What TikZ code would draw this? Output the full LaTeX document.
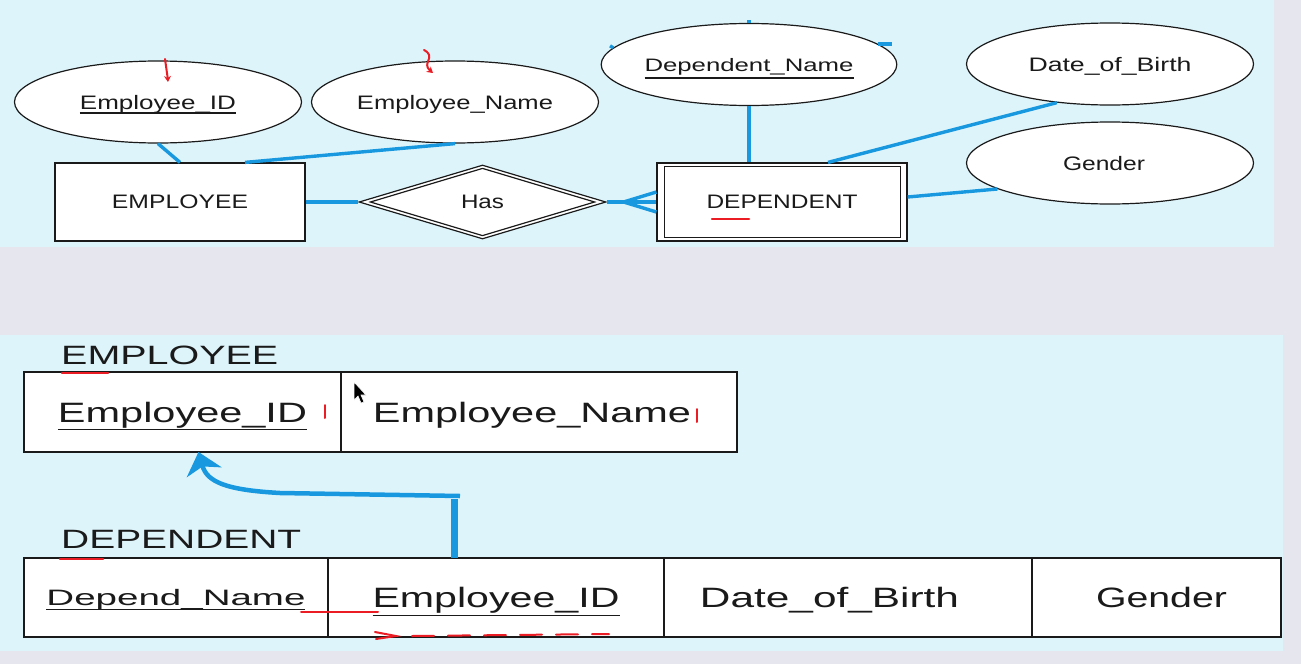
\documentclass[tikz,border=0pt]{standalone}
\usepackage{fontspec}
\setmainfont{Liberation Sans}
\usepackage{graphicx}
\usetikzlibrary{shapes.geometric,arrows.meta}
\definecolor{panelblue}{RGB}{221,244,251}
\definecolor{bandgray}{RGB}{230,230,239}
\definecolor{linkblue}{RGB}{24,152,222}
\definecolor{inkc}{RGB}{26,26,26}
\definecolor{penred}{RGB}{236,28,36}
\newcommand{\wtext}[2]{\resizebox{#1}{\height}{#2}}
\newcommand{\ktext}[3]{\rlap{\rule[#3]{#1}{1.2pt}}\wtext{#1}{#2}}
\begin{document}
\begin{tikzpicture}[x=1pt,y=-1pt,
	attr/.style={ellipse,draw=inkc,line width=1.2pt,fill=white,minimum width=287pt,minimum height=82pt,inner sep=0pt,text depth=0pt,text=inkc,font=\fontsize{19.5}{22}\selectfont},
	entity/.style={rectangle,draw=inkc,line width=1.2pt,fill=white,minimum width=250pt,minimum height=78pt,inner sep=0pt,text depth=0pt,text=inkc,font=\fontsize{19.5}{22}\selectfont},
	relation/.style={diamond,draw=inkc,line width=1.2pt,fill=white,minimum width=247pt,minimum height=74pt,inner sep=0pt,text depth=0pt,text=inkc,font=\fontsize{19.5}{22}\selectfont},
	tabletitle/.style={anchor=base west,inner sep=0pt,text=inkc,font=\fontsize{26.5}{28}\selectfont},
	cell/.style={rectangle,draw=inkc,line width=1.5pt,fill=white,minimum height=80pt,inner sep=0pt,outer sep=0pt,text depth=0pt,text=inkc,font=\fontsize{28}{30}\selectfont},
	link/.style={draw=linkblue,line width=3.4pt},
	fkline/.style={draw=linkblue,line width=4.5pt},
	redpen/.style={draw=penred,line width=2pt,line cap=round}]
	\useasboundingbox (0,0) rectangle (1301,664);
	\fill[bandgray] (0,0) rectangle (1301,664);
	\fill[panelblue] (0,0) rectangle (1274,247);
	\fill[panelblue] (0,335) rectangle (1283,651);
	% ER diagram
	\node[attr] (eid) at (158,102) {\ktext{156pt}{Employee\_ID}{-4.6pt}};
	\node[attr] (ename) at (455,102) {\wtext{196pt}{Employee\_Name}};
	\node[attr,font=\fontsize{18}{20}\selectfont] (dname) at (749,64.5) {\ktext{209pt}{Dependent\_Name}{-7.5pt}};
	\node[attr] (dob) at (1110,64) {\wtext{163pt}{Date\_of\_Birth}};
	\node[attr] (gen) at (1110,163) {\wtext{82pt}{Gender}\hspace*{12pt}};
	\node[entity] (emp) at (180,202) {\wtext{136pt}{EMPLOYEE}};
	\node[entity] (dep) at (782,202) {\wtext{151pt}{DEPENDENT}};
	\draw[inkc,line width=1.2pt] ([xshift=8pt,yshift=-4pt]dep.north west) rectangle ([xshift=-7pt,yshift=4pt]dep.south east);
	\node[relation] (has) at (482.5,202) {\wtext{43pt}{Has}};
	\draw[inkc,line width=1.2pt] ([xshift=12pt]has.west) -- ([yshift=-4pt]has.north) -- ([xshift=-12pt]has.east) -- ([yshift=4pt]has.south) -- cycle;
	\draw[link] (eid.south) -- (emp.north);
	\draw[link] (ename.south) -- ([xshift=65pt]emp.north);
	\draw[link] (emp.east) -- (has.west);
	\coordinate (foot) at ([xshift=17pt]has.east);
	\draw[link] (has.east) -- (foot);
	\draw[link] (foot) -- ([yshift=10pt]dep.west);
	\draw[link] (foot) -- (dep.west);
	\draw[link] (foot) -- ([yshift=-10pt]dep.west);
	\draw[link] (dname.south) -- (dname.south |- dep.north);
	\draw[link] (dob.216) -- ([xshift=46pt]dep.north);
	\draw[link] (gen.193) -- ([yshift=5pt]dep.east);
	\draw[link] (dname.north) -- ++(0,-3);
	\draw[link] (dname.173) -- ++(-3,-2);
	\draw[link] (dname.9) -- ++(14,0);
	% relational tables
	\node[tabletitle] (ttlemp) at (61,364) {\wtext{217pt}{EMPLOYEE}};
	\node[cell,minimum width=317pt] (tEid) at (182.5,412) {\ktext{249pt}{Employee\_ID}{-7.7pt}};
	\node[cell,minimum width=396pt] (tEname) at (539,412) {\wtext{318pt}{Employee\_Name}\hspace*{14pt}};
	\node[tabletitle] (ttldep) at (61,548) {\wtext{240pt}{DEPENDENT}};
	\node[cell,minimum width=304pt,minimum height=79pt,font=\fontsize{22.3}{24}\selectfont] (tdDname) at (176,597.5) {\ktext{259pt}{Depend\_Name}{-4.8pt}};
	\node[cell,minimum width=336pt,minimum height=79pt] (tdEid) at (496,597.5) {\ktext{247pt}{Employee\_ID}{-8.5pt}};
	\node[cell,minimum width=368pt,minimum height=79pt] (tdDob) at (848,597.5) {\wtext{259pt}{Date\_of\_Birth}\hspace*{37pt}};
	\node[cell,minimum width=249pt,minimum height=79pt] (tdGen) at (1156.5,597.5) {\hspace*{10pt}\wtext{131pt}{Gender}};
	\coordinate (bend) at (454,496);
	\draw[fkline,line width=7pt] (bend |- tdDname.north) -- ([yshift=-3pt]bend);
	\draw[fkline,-{Stealth[length=21pt,width=36pt,inset=6pt]}] ([xshift=6pt]bend) -- (280,493) .. controls (226,490) and (207,482) .. ([xshift=16pt]tEid.south);
	% red pen marks
	\draw[redpen,-{Stealth[length=6pt,width=7pt]}] (165,59) .. controls (167,68) .. (168,82);
	\draw[redpen,-{Stealth[length=6pt,width=7pt]}] (424,50) .. controls (437,57) and (421,63) .. (433,73);
	\draw[redpen,line width=2.5pt] (712,219) -- (749,219);
	\draw[redpen,line width=2.5pt] (62,373) -- (108,373);
	\draw[redpen,line width=2.5pt] (60,559) -- (103,559);
	\draw[redpen] (325,405) -- (325,418);
	\draw[redpen] (697,409) -- (697,422);
	\draw[redpen] (301,612) -- (378,612);
	\draw[redpen] (375,632) -- (396,636) -- (376,639);
	\draw[redpen,dash pattern=on 22pt off 14pt] (412,636) -- (609,634);
	% cursor
	\filldraw[black,draw=white,line width=0.6pt] (354,382) -- (354,400) -- (358,396) -- (361,403) -- (364,402) -- (361,395) -- (366,395) -- cycle;
\end{tikzpicture}
\end{document}
